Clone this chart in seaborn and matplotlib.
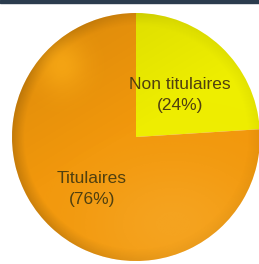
import numpy as np
import seaborn as sns
import matplotlib.pyplot as plt
from matplotlib.patches import Circle, Rectangle

# data
categories = ["Non titulaires", "Titulaires"]
shares = [24, 76]
palette = ["#eeee00", "#f2980c"]

sns.set_theme(style="white")
plt.rcParams['font.family'] = ['Liberation Sans', 'DejaVu Sans']

W, H, dpi = 259, 264, 100
cx, cy, r = 136, 137, 124  # pie centre / radius in pixels

fig = plt.figure(figsize=(W / dpi, H / dpi), dpi=dpi)
ax = fig.add_axes([0, 0, 1, 1])

labels = [f"{c}\n({v}%)" for c, v in zip(categories, shares)]
wedges, texts = ax.pie(shares, labels=labels, colors=palette, startangle=90,
                       counterclock=False, labeldistance=0.52,
                       wedgeprops=dict(linewidth=0))
for t in texts:
    x, y = t.get_position()
    t.set_position((x, y - 5 / r))
    t.set_ha("center")
    t.set_va("center")
    t.set_fontsize(12.5)
    t.set_color("#50400f")
    t.set_linespacing(1.45)
    t.set_zorder(5)

# glossy shading: darker towards the top, lighter bottom-right, highlight blob
n = 400
gx, gy = np.meshgrid(np.linspace(-1, 1, n), np.linspace(1, -1, n))
rad = np.hypot(gx, gy)
tl = np.clip((gy - 0.6 * gx) / 1.6, 0, 1)
dark = 0.10 * tl + 0.16 * np.clip(rad - 0.9, 0, 1) / 0.1 * (0.3 + 0.7 * np.clip(-gx + 0.3, 0, 1))
shade = np.zeros((n, n, 4))
shade[..., 3] = np.clip(dark, 0, 0.3)
ax.imshow(shade, extent=(-1, 1, -1, 1), zorder=3, interpolation="bilinear")

hl = np.exp(-(((gx + 0.6) / 0.2) ** 2 + ((gy - 0.58) / 0.22) ** 2))
light = np.zeros((n, n, 4))
light[..., 0] = 1.0
light[..., 1] = 0.7
light[..., 2] = 0.1
light[..., 3] = 0.6 * hl
ax.imshow(light, extent=(-1, 1, -1, 1), zorder=3, interpolation="bilinear")

lowr = np.exp(-(((gx - 0.3) / 0.7) ** 2 + ((gy + 0.7) / 0.5) ** 2))
light2 = np.ones((n, n, 4))
light2[..., 1] = 0.8
light2[..., 2] = 0.4
light2[..., 3] = 0.22 * lowr
ax.imshow(light2, extent=(-1, 1, -1, 1), zorder=3, interpolation="bilinear")

clip = Circle((0, 0), 1, transform=ax.transData)
for im in ax.images:
    im.set_clip_path(clip)

ax.set_xlim(-cx / r, (W - cx) / r)
ax.set_ylim(-(H - cy) / r, cy / r)
ax.set_aspect("equal")
ax.axis("off")

# dark band along the top edge
fig.patches.append(Rectangle((0, 1 - 3 / H), 1, 3 / H, transform=fig.transFigure,
                             color="#2b3c4e", zorder=10))

fig.savefig("out.png", dpi=dpi)
